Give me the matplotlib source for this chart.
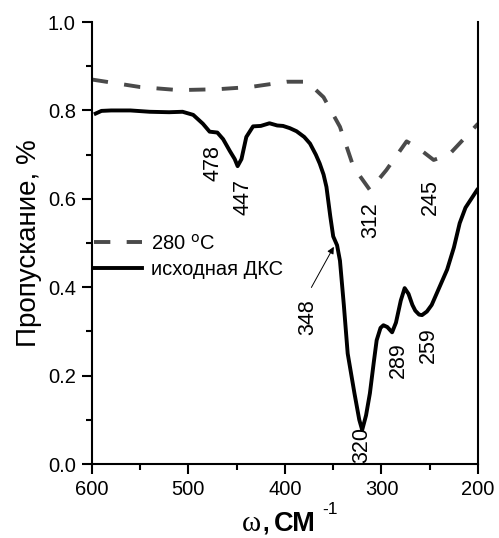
import numpy as np
import matplotlib
matplotlib.use("Agg")
from matplotlib import pyplot as plt

plt.rcParams['font.family'] = ['Liberation Sans', 'DejaVu Sans']

# исходная ДКС (solid)
wn_src = [596, 590, 580, 560, 540, 520, 506, 495, 485, 478, 470, 464, 457, 452, 449,
          445, 440, 433, 425, 416, 408, 402, 395, 388, 380, 374, 368, 364, 360, 357,
          353, 350, 346, 343, 339, 335, 328, 323, 320, 316, 312, 308, 305, 301, 298,
          294, 289, 285, 280, 276, 272, 268, 265, 261, 258, 253, 248, 240, 232, 225,
          219, 213, 207, 201]
tr_src = [0.793, 0.799, 0.800, 0.800, 0.797, 0.796, 0.797, 0.790, 0.770, 0.752, 0.750, 0.735, 0.708, 0.690, 0.674,
          0.690, 0.740, 0.764, 0.765, 0.771, 0.766, 0.765, 0.760, 0.753, 0.740, 0.725, 0.700, 0.680, 0.655, 0.627,
          0.560, 0.515, 0.495, 0.46, 0.36, 0.25, 0.16, 0.10, 0.077, 0.11, 0.16, 0.23, 0.28, 0.308, 0.314,
          0.310, 0.298, 0.32, 0.37, 0.398, 0.385, 0.36, 0.347, 0.338, 0.337, 0.345, 0.36, 0.40, 0.44, 0.49,
          0.545, 0.58, 0.60, 0.62]

# 280 °C (dashed)
wn_280 = [600, 550, 510, 470, 436, 398, 377, 360, 343, 329, 312, 295, 274, 262, 246, 230, 215, 200]
tr_280 = [0.870, 0.853, 0.846, 0.848, 0.853, 0.865, 0.865, 0.830, 0.763, 0.672, 0.620, 0.665, 0.730, 0.715, 0.688, 0.700, 0.735, 0.770]

peak_labels = ["478", "447", "312", "245", "348", "320", "289", "259"]
peak_x = [474.5, 443.5, 311, 249, 376, 320, 283, 251]
peak_y = [0.681, 0.604, 0.552, 0.604, 0.333, 0.043, 0.235, 0.270]

fig = plt.figure(figsize=(4.99, 5.38), dpi=100)
ax = fig.add_axes([0.184, 0.1375, 0.774, 0.8215])

ax.plot(wn_280, tr_280, color='#4a4a4a', lw=2.8, dashes=(4.2, 4.2), label='280 $^\\mathrm{o}$C')
ax.plot(wn_src, tr_src, color='black', lw=2.8, label='исходная ДКС')

for lab, x, y in zip(peak_labels, peak_x, peak_y):
    ax.text(x, y, lab, rotation=90, ha='center', va='center', fontsize=15.5)

ax.annotate('', xy=(348, 0.497), xytext=(374, 0.394),
            arrowprops=dict(arrowstyle='-|>', color='black', lw=0.7, mutation_scale=10))

ax.set_xlim(600, 200)
ax.set_ylim(0, 1.0)
ax.set_xticks([600, 500, 400, 300, 200])
ax.set_xticks([550, 450, 350, 250], minor=True)
ax.set_yticks([0.0, 0.2, 0.4, 0.6, 0.8, 1.0])
ax.set_yticks([0.1, 0.3, 0.5, 0.7, 0.9], minor=True)
ax.set_yticklabels(["0.0", "0.2", "0.4", "0.6", "0.8", "1.0"])
ax.tick_params(which='major', direction='out', length=7.5, width=1.5, labelsize=14.5, pad=4)
ax.tick_params(which='minor', direction='out', length=4, width=1.5)
ax.spines['top'].set_visible(False)
for s in ['left', 'bottom', 'right']:
    ax.spines[s].set_linewidth(1.5)

ax.set_ylabel('Пропускание, %', fontsize=20, labelpad=4)

# x label: serif omega, sans units with superscript
fig.text(242 / 499, 7 / 538, 'ω', fontsize=21, family='Liberation Serif', va='baseline', ha='left')
fig.text(262 / 499, 7 / 538, ',', fontsize=17, weight='bold', va='baseline', ha='left')
fig.text(274 / 499, 7 / 538, 'СМ', fontsize=19.5, weight='bold', va='baseline', ha='left')
fig.text(322 / 499, 24 / 538, '-1', fontsize=12.5, va='baseline', ha='left')

ax.legend(loc='upper left', bbox_to_anchor=(-0.015, 0.54), frameon=False, fontsize=14.5,
          handlelength=2.4, handletextpad=0.45, labelspacing=0.35, borderaxespad=0)

fig.savefig('out.png', dpi=100)
